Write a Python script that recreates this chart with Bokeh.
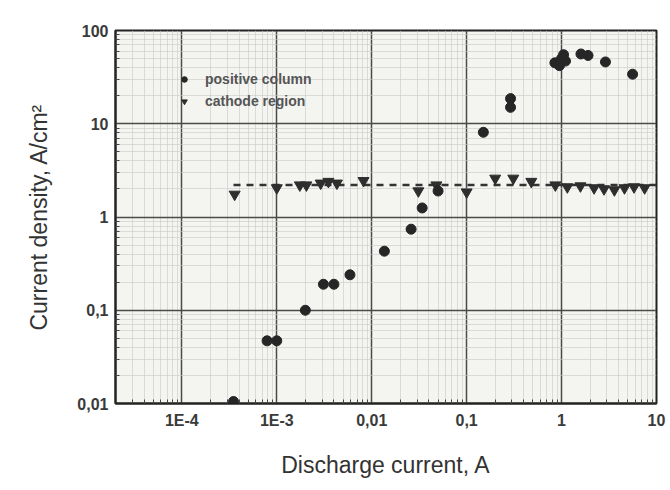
from bokeh.plotting import figure
from bokeh.models import Range1d, FixedTicker, Legend, LegendItem, ColumnDataSource
from bokeh.embed import file_html
from bokeh.resources import INLINE

# positive column (circles)
pc_current = [3.5e-4, 7.9e-4, 1.0e-3, 2.0e-3, 3.1e-3, 4.0e-3, 5.9e-3, 0.0136, 0.026, 0.034, 0.05,
              0.15, 0.29, 0.29, 0.85, 0.95, 1.0, 1.05, 1.1, 1.6, 1.9, 2.9, 5.6]
pc_density = [0.0105, 0.047, 0.047, 0.1, 0.19, 0.19, 0.24, 0.43, 0.74, 1.25, 1.9,
              8.1, 18.6, 15.0, 45, 42, 50, 55, 47, 56, 54, 46, 34]

# cathode region (inverted triangles)
cr_current = [3.6e-4, 1.0e-3, 1.75e-3, 2.05e-3, 2.9e-3, 3.5e-3, 4.3e-3, 8.2e-3, 0.031, 0.048, 0.1,
              0.2, 0.31, 0.48, 0.86, 1.15, 1.58, 2.2, 2.8, 3.6, 4.6, 5.8, 7.5]
cr_density = [1.75, 2.05, 2.2, 2.2, 2.3, 2.4, 2.3, 2.45, 1.9, 2.2, 1.85,
              2.6, 2.6, 2.4, 2.2, 2.1, 2.15, 2.05, 2.0, 1.95, 2.05, 2.1, 2.05]

# dashed fit line
fit_current = [3.5e-4, 10]
fit_density = [2.2, 2.2]

x_ticks = [1e-4, 1e-3, 1e-2, 1e-1, 1, 10]
x_tick_labels = ["1E-4", "1E-3", "0,01", "0,1", "1", "10"]
y_ticks = [0.01, 0.1, 1, 10, 100]
y_tick_labels = ["0,01", "0,1", "1", "10", "100"]

p = figure(width=670, height=490, x_axis_type="log", y_axis_type="log",
           x_range=Range1d(2e-5, 10), y_range=Range1d(0.01, 100),
           output_backend="svg", toolbar_location=None)
p.min_border_left = 115
p.min_border_right = 14
p.min_border_top = 30
p.min_border_bottom = 87

p.background_fill_color = "#f4f4f1"
p.border_fill_color = "white"
p.outline_line_color = "#222222"
p.outline_line_width = 2

FONT = "Liberation Sans"
for ax in (p.xaxis[0], p.yaxis[0]):
    ax.axis_line_color = "#222222"
    ax.axis_line_width = 2
    ax.major_tick_in = 0
    ax.major_tick_out = 0
    ax.minor_tick_in = 4
    ax.minor_tick_out = 0
    ax.minor_tick_line_color = "#444444"
    ax.major_label_text_font = FONT
    ax.major_label_text_font_size = "16px"
    ax.major_label_text_font_style = "bold"
    ax.major_label_text_color = "#3a3a3a"
    ax.axis_label_text_font = FONT
    ax.axis_label_text_font_size = "23px"
    ax.axis_label_text_font_style = "normal"
    ax.axis_label_text_color = "#333333"

p.xaxis[0].ticker = FixedTicker(ticks=x_ticks, minor_ticks=[m * 10.0 ** e for e in range(-5, 1) for m in range(2, 10)])
p.yaxis[0].ticker = FixedTicker(ticks=y_ticks, minor_ticks=[m * 10.0 ** e for e in range(-2, 2) for m in range(2, 10)])
p.xaxis[0].major_label_overrides = {t: l for t, l in zip(x_ticks, x_tick_labels)}
p.yaxis[0].major_label_overrides = {t: l for t, l in zip(y_ticks, y_tick_labels)}
p.xaxis[0].major_label_standoff = 8
p.yaxis[0].major_label_standoff = 7
p.xaxis[0].axis_label = "Discharge current, A"
p.yaxis[0].axis_label = "Current density, A/cm\u00b2"
p.xaxis[0].axis_label_standoff = 20
p.yaxis[0].axis_label_standoff = 22

for g in (p.xgrid[0], p.ygrid[0]):
    g.grid_line_color = "#4a4a4a"
    g.grid_line_width = 1.5
    g.minor_grid_line_color = "#c8c8c8"
    g.minor_grid_line_alpha = 0.6
    g.minor_grid_line_width = 1

p.line(fit_current, fit_density, line_color="#333333", line_width=2.5, line_dash="7 6")

r_cr = p.scatter(cr_current, cr_density, marker="inverted_triangle", size=11,
                 fill_color="#2e2e2e", line_color="#2e2e2e")
r_pc = p.scatter(pc_current, pc_density, marker="circle", size=10,
                 fill_color="#262626", line_color="#262626")

legend = Legend(items=[LegendItem(label="positive column", renderers=[r_pc]),
                       LegendItem(label="cathode region", renderers=[r_cr])],
                location=(62, 292))
legend.background_fill_alpha = 0
legend.border_line_alpha = 0
legend.padding = 0
legend.spacing = 2
legend.glyph_width = 14
legend.glyph_height = 20
legend.label_height = 20
legend.label_standoff = 14
legend.label_text_font = FONT
legend.label_text_font_size = "14px"
legend.label_text_font_style = "bold"
legend.label_text_color = "#555555"
p.add_layout(legend)

open("out.html", "w").write(file_html(p, INLINE))
